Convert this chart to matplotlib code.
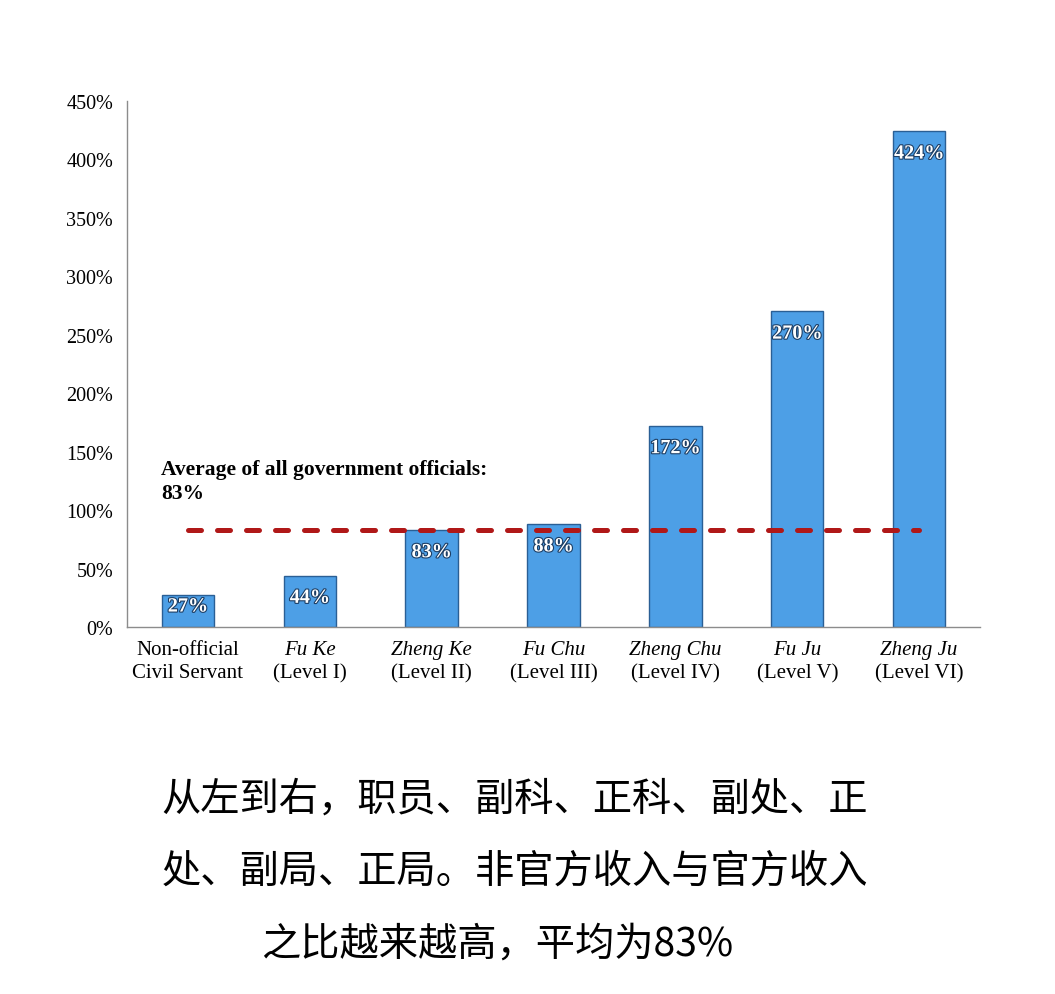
import matplotlib
matplotlib.use("Agg")
from matplotlib import pyplot as plt
import matplotlib.patheffects as pe

names = ["Non-official", "Fu Ke", "Zheng Ke", "Fu Chu", "Zheng Chu", "Fu Ju", "Zheng Ju"]
levels = ["Civil Servant", "(Level I)", "(Level II)", "(Level III)", "(Level IV)", "(Level V)", "(Level VI)"]
ratios = [27, 44, 83, 88, 172, 270, 424]
average = 83
yticks = [0, 50, 100, 150, 200, 250, 300, 350, 400, 450]
caption = ["从左到右，职员、副科、正科、副处、正",
           "处、副局、正局。非官方收入与官方收入",
           "之比越来越高，平均为83%"]

serif = "Liberation Serif"

fig = plt.figure(figsize=(10.55, 9.95), dpi=100)
ax = fig.add_axes([0.1204, 0.3688, 0.8086, 0.5287])

x = list(range(len(ratios)))
ax.bar(x, ratios, width=0.43, color="#4d9fe6", edgecolor="#2a5f95", linewidth=1, zorder=2)
ax.plot([x[0], x[-1]], [average, average], color="#b01818", lw=3.6,
        dashes=(2.6, 3.2), dash_capstyle="round", zorder=3)

for xi, v in zip(x, ratios):
    y = v - 19 if v > 40 else v * 0.65
    ax.text(xi, y, f"{v}%", ha="center", va="center", color="white",
            fontfamily=serif, fontweight="bold", fontsize=14.5, zorder=4,
            path_effects=[pe.withStroke(linewidth=1.6, foreground="#1d3f66")])

ax.text(-0.22, 125, "Average of all government officials:\n83%", ha="left", va="center",
        fontfamily=serif, fontweight="bold", fontsize=15.5, linespacing=1.25)

ax.set_xlim(-0.5, 6.5)
ax.set_ylim(0, 450)
ax.set_yticks(yticks)
ax.set_yticklabels([f"{t}%" for t in yticks], fontfamily=serif, fontsize=14.5)
ax.tick_params(axis="y", length=0, pad=10)
ax.set_xticks(x)
ax.set_xticklabels([])
ax.tick_params(axis="x", length=0)

for xi, n, l in zip(x, names, levels):
    style = "normal" if xi == 0 else "italic"
    ax.annotate(n, (xi, 0), xycoords=("data", "axes fraction"), xytext=(0, -16.5),
                textcoords="offset points", ha="center", va="center",
                fontfamily=serif, fontsize=15, fontstyle=style)
    ax.annotate(l, (xi, 0), xycoords=("data", "axes fraction"), xytext=(0, -33),
                textcoords="offset points", ha="center", va="center",
                fontfamily=serif, fontsize=15)

for s in ["top", "right"]:
    ax.spines[s].set_visible(False)
for s in ["left", "bottom"]:
    ax.spines[s].set_color("#8c8c8c")
    ax.spines[s].set_linewidth(1)

cy = [800, 872, 945]
cx = [515, 515, 497]
for line, yy, xx in zip(caption, cy, cx):
    fig.text(xx / 1055, 1 - yy / 995, line, ha="center", va="center",
             fontfamily=["Noto Sans CJK SC", "DejaVu Sans"], fontsize=28.3, color="black")

fig.savefig("out.png", dpi=100)
